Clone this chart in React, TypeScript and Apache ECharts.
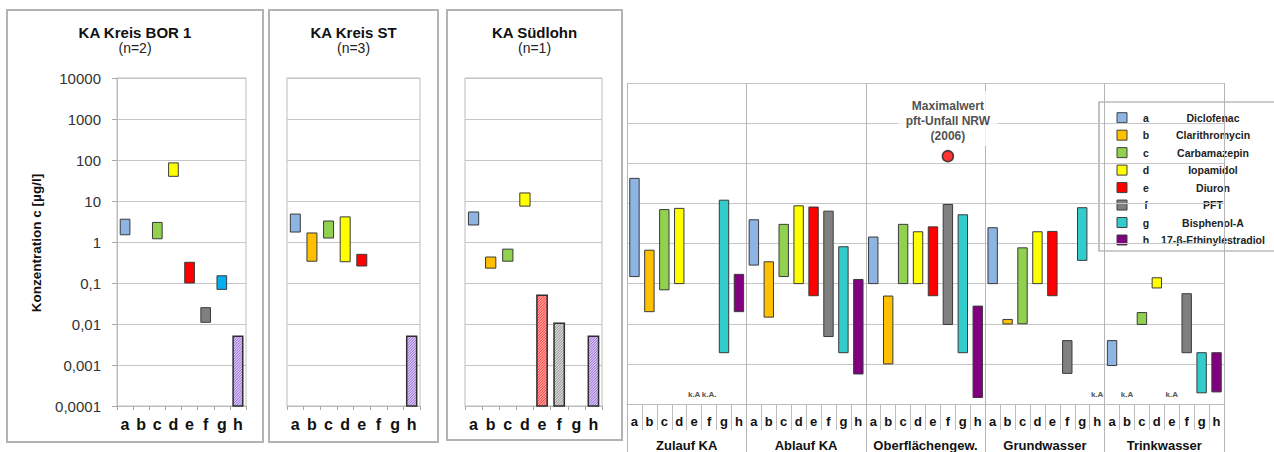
import React, { useEffect, useRef } from 'react';
import * as echarts from 'echarts';

// ---------- data ----------
const substanceLetters = ['a', 'b', 'c', 'd', 'e', 'f', 'g', 'h'];
const substanceNames = ['Diclofenac', 'Clarithromycin', 'Carbamazepin', 'Iopamidol', 'Diuron', 'PFT', 'Bisphenol-A', '17-β-Ethinylestradiol'];
const substanceColors = ['#8DB4E2', '#FFC000', '#92D050', '#FFFF00', '#FF0000', '#808080', '#33CCCC', '#800080'];
const hatchFill = ['', '', '', '', '#FFA3A3', '#D9D9D9', '', '#D7C6F2'];
const hatchStripe = ['', '', '', '', '#FF2B2B', '#8A8A8A', '', '#9563D8'];
const bor1BisphenolColor = '#00B0F0';

const yTickLabels = [10000, 1000, 100, 10, 1, 0.1, 0.01, 0.001, 0.0001];

const panelTitles = ['KA Kreis BOR 1', 'KA Kreis ST', 'KA Südlohn'];
const panelSubtitles = ['(n=2)', '(n=3)', '(n=1)'];

// KA Kreis BOR 1
const bor1Min = [1.5, null, 1.2, 40, 0.1, 0.011, 0.07, 0.0001];
const bor1Max = [3.6, null, 3.0, 85, 0.32, 0.025, 0.15, 0.005];
const bor1Hatch = [0, 0, 0, 0, 0, 0, 0, 1];
// KA Kreis ST
const stMin = [1.75, 0.34, 1.25, 0.33, 0.26, null, null, 0.0001];
const stMax = [4.8, 1.66, 3.25, 4.1, 0.5, null, null, 0.005];
const stHatch = [0, 0, 0, 0, 0, 0, 0, 1];
// KA Südlohn
const suedMin = [2.6, 0.23, 0.34, 7.5, 0.0001, 0.0001, null, 0.0001];
const suedMax = [5.4, 0.43, 0.67, 15.7, 0.05, 0.0105, null, 0.005];
const suedHatch = [0, 0, 0, 0, 1, 1, 0, 1];

// right chart
const groupNames = ['Zulauf KA', 'Ablauf KA', 'Oberflächengew.', 'Grundwasser', 'Trinkwasser'];
const zulaufMin = [0.15, 0.02, 0.07, 0.1, null, null, 0.0019, 0.02];
const zulaufMax = [42, 0.68, 7, 7.5, null, null, 12, 0.17];
const ablaufMin = [0.29, 0.0146, 0.15, 0.1, 0.05, 0.0048, 0.0019, 0.00056];
const ablaufMax = [3.9, 0.35, 3.0, 8.7, 8.1, 6.4, 0.83, 0.127];
const oberMin = [0.1, 0.001, 0.1, 0.1, 0.05, 0.0096, 0.0019, 0.000145];
const oberMax = [1.45, 0.049, 3.0, 1.96, 2.6, 9.4, 5.2, 0.0275];
const grundMin = [0.1, 0.0099, 0.01, 0.1, 0.05, 0.00058, 0.38, null];
const grundMax = [2.47, 0.0128, 0.78, 1.96, 2.0, 0.0038, 7.8, null];
const trinkMin = [0.00091, null, 0.0096, 0.078, null, 0.0019, 0.00019, 0.0002];
const trinkMax = [0.0038, null, 0.019, 0.14, null, 0.056, 0.0019, 0.0019];

const zulaufNotes = ['', '', '', '', 'k.A', 'k.A.', '', ''];
const ablaufNotes = ['', '', '', '', '', '', '', ''];
const oberNotes = ['', '', '', '', '', '', '', ''];
const grundNotes = ['', '', '', '', '', '', '', 'k.A'];
const trinkNotes = ['', 'k.A', '', '', 'k.A', '', '', ''];

const pftMaxLabel = 'Maximalwert\npft-Unfall NRW\n(2006)';
const pftMaxValue = 150;
const pftMaxGroup = 'Oberflächengew.';
const pftMaxSubstance = 'f';

// ---------- helpers ----------
const FONT = '"Liberation Sans", Arial, sans-serif';

function buildBars(mins: (number | null)[], maxs: (number | null)[], hatch: number[], offset = 0) {
  const out: number[][] = [];
  mins.forEach((lo, i) => {
    const hi = maxs[i];
    if (lo == null || hi == null) return;
    out.push([offset + i, lo, hi, hatch[i] || 0]);
  });
  return out;
}

function makeRenderBar(colors: string[], widthRatio: number) {
  return (params: any, api: any) => {
    const idx = api.value(0);
    const lo = api.value(1);
    const hi = api.value(2);
    const hatch = api.value(3);
    const sub = idx % 8;
    const pHi = api.coord([idx, hi]);
    const pLo = api.coord([idx, lo]);
    const bw = api.size([1, 1], [idx, 1])[0] * widthRatio;
    const x = pHi[0] - bw / 2;
    const y = pHi[1];
    const h = pLo[1] - pHi[1];
    if (!hatch) {
      return {
        type: 'rect',
        shape: { x, y, width: bw, height: h },
        style: { fill: colors[sub], stroke: '#3a3a3a', lineWidth: 1 },
      };
    }
    const children: any[] = [
      { type: 'rect', shape: { x, y, width: bw, height: h }, style: { fill: hatchFill[sub], stroke: null } },
    ];
    const step = 2.6;
    for (let c = x + y; c <= x + bw + y + h; c += step) {
      const xs = Math.max(x, c - (y + h));
      const xe = Math.min(x + bw, c - y);
      if (xe > xs) {
        children.push({
          type: 'line',
          shape: { x1: xs, y1: c - xs, x2: xe, y2: c - xe },
          style: { stroke: hatchStripe[sub], lineWidth: 0.9 },
        });
      }
    }
    children.push({
      type: 'rect',
      shape: { x, y, width: bw, height: h },
      style: { fill: 'none', stroke: '#2e2e2e', lineWidth: 1.5 },
    });
    return { type: 'group', children };
  };
}

function logLabel(v: number) {
  const n = Number(Number(v).toPrecision(1));
  return String(n).replace('.', ',');
}

const App: React.FC = () => {
  const ref = useRef<HTMLDivElement>(null);

  useEffect(() => {
    if (!ref.current) return;
    document.body.style.margin = '0';
    const chart = echarts.init(ref.current, undefined, { renderer: 'svg' });

    const yMin = yTickLabels[yTickLabels.length - 1];
    const yMax = yTickLabels[0];

    const panelGrids = [
      { left: 117, top: 78, width: 129, height: 328 },
      { left: 287, top: 78, width: 133, height: 328 },
      { left: 465, top: 78, width: 137, height: 328 },
    ];
    const panelFrames = [
      { x: 7, y: 10, w: 256, h: 432 },
      { x: 269, y: 10, w: 169, h: 432 },
      { x: 447, y: 10, w: 175, h: 430 },
    ];

    const grids: any[] = panelGrids.map((g) => ({
      ...g,
      show: true,
      borderColor: '#bdbdbd',
      borderWidth: 1,
      backgroundColor: 'transparent',
      outerBoundsMode: 'none',
      containLabel: false,
    }));
    grids.push({ left: 627, top: 83, width: 597, height: 321, outerBoundsMode: 'none', containLabel: false });

    const xAxes: any[] = panelGrids.map((_, i) => ({
      type: 'category',
      gridIndex: i,
      data: substanceLetters,
      boundaryGap: true,
      axisLine: { show: true, lineStyle: { color: '#bdbdbd', width: 1 } },
      axisTick: { show: true, length: 4, interval: 0, lineStyle: { color: '#a8a8a8' } },
      axisLabel: { interval: 0, margin: 10, fontFamily: FONT, fontSize: 16, fontWeight: 'bold', color: '#111' },
      splitLine: { show: false },
    }));
    const mainCats: string[] = [];
    groupNames.forEach(() => substanceLetters.forEach((l) => mainCats.push(l)));
    xAxes.push({
      type: 'category',
      gridIndex: 3,
      data: mainCats,
      boundaryGap: true,
      axisLine: { show: true, lineStyle: { color: '#bdbdbd', width: 1 } },
      axisTick: { show: true, length: 26, interval: 0, lineStyle: { color: '#bdbdbd' } },
      axisLabel: { interval: 0, margin: 11, fontFamily: FONT, fontSize: 13, fontWeight: 'bold', color: '#111' },
      splitLine: { show: false },
    });
    xAxes.push({
      type: 'category',
      gridIndex: 3,
      position: 'bottom',
      data: groupNames,
      boundaryGap: true,
      axisLine: { show: false },
      axisTick: { show: true, length: 48, interval: 0, lineStyle: { color: '#b5b5b5' } },
      axisLabel: { interval: 0, margin: 35, fontFamily: FONT, fontSize: 13, fontWeight: 'bold', color: '#111' },
      splitLine: { show: true, interval: 0, lineStyle: { color: '#b5b5b5', width: 1 } },
    });

    const yAxes: any[] = [0, 1, 2, 3].map((i) => ({
      type: 'log',
      logBase: 10,
      gridIndex: i,
      min: yMin,
      max: yMax,
      splitNumber: 8,
      axisLine: { show: i === 0, lineStyle: { color: '#bdbdbd' } },
      axisTick: { show: i === 0, length: 5, lineStyle: { color: '#a8a8a8' } },
      axisLabel: {
        show: i === 0,
        margin: 16,
        fontFamily: FONT,
        fontSize: 15,
        color: '#333',
        formatter: (v: number) => logLabel(v),
      },
      splitLine: { show: true, lineStyle: { color: '#c6c6c6', width: 1.2 } },
    }));

    const bor1Colors = substanceColors.map((c, i) => (i === 6 ? bor1BisphenolColor : c));

    const mainMins = [...zulaufMin, ...ablaufMin, ...oberMin, ...grundMin, ...trinkMin];
    const mainMaxs = [...zulaufMax, ...ablaufMax, ...oberMax, ...grundMax, ...trinkMax];
    const mainNotes = [...zulaufNotes, ...ablaufNotes, ...oberNotes, ...grundNotes, ...trinkNotes];
    const noteItems = mainNotes
      .map((t, i) => ({ t, i }))
      .filter((n) => n.t);

    const pftIdx = groupNames.indexOf(pftMaxGroup) * 8 + substanceLetters.indexOf(pftMaxSubstance);

    const series: any[] = [
      {
        type: 'custom',
        xAxisIndex: 0,
        yAxisIndex: 0,
        data: buildBars(bor1Min, bor1Max, bor1Hatch),
        renderItem: makeRenderBar(bor1Colors, 0.6),
        z: 5,
      },
      {
        type: 'custom',
        xAxisIndex: 1,
        yAxisIndex: 1,
        data: buildBars(stMin, stMax, stHatch),
        renderItem: makeRenderBar(substanceColors, 0.6),
        z: 5,
      },
      {
        type: 'custom',
        xAxisIndex: 2,
        yAxisIndex: 2,
        data: buildBars(suedMin, suedMax, suedHatch),
        renderItem: makeRenderBar(substanceColors, 0.6),
        z: 5,
      },
      {
        type: 'custom',
        xAxisIndex: 3,
        yAxisIndex: 3,
        data: buildBars(mainMins, mainMaxs, new Array(40).fill(0)),
        renderItem: makeRenderBar(substanceColors, 0.63),
        z: 5,
      },
      {
        type: 'custom',
        xAxisIndex: 3,
        yAxisIndex: 3,
        data: noteItems.map((n) => [n.i, yMin]),
        renderItem: (params: any, api: any) => {
          const p = api.coord([api.value(0), api.value(1)]);
          return {
            type: 'text',
            x: p[0],
            y: p[1] - 10,
            style: {
              text: noteItems[params.dataIndex].t,
              font: `bold 8px ${FONT}`,
              fill: '#555',
              align: 'center',
              verticalAlign: 'middle',
              textAlign: 'center',
              textVerticalAlign: 'middle',
            },
          };
        },
        z: 6,
      },
      {
        type: 'scatter',
        xAxisIndex: 3,
        yAxisIndex: 3,
        data: [[pftIdx, pftMaxValue]],
        symbol: 'circle',
        symbolSize: 11,
        itemStyle: { color: '#FF0000', borderColor: '#222', borderWidth: 1.5 },
        label: {
          show: true,
          position: 'top',
          distance: 4,
          formatter: pftMaxLabel,
          fontFamily: FONT,
          fontSize: 12,
          fontWeight: 'bold',
          color: '#222',
          lineHeight: 15,
          align: 'center',
          backgroundColor: '#ffffff',
          padding: [8, 8, 2, 8],
        },
        z: 10,
      },
    ];

    const graphics: any[] = [];
    panelFrames.forEach((f, i) => {
      graphics.push({
        type: 'rect',
        shape: { x: f.x, y: f.y, width: f.w, height: f.h },
        style: { fill: 'none', stroke: '#b3b3b3', lineWidth: 2 },
        z: 1,
      });
      const cx = f.x + f.w / 2;
      graphics.push({
        type: 'text',
        x: cx,
        y: 32,
        style: {
          text: panelTitles[i],
          font: `bold 15px ${FONT}`,
          fill: '#111',
          align: 'center',
          verticalAlign: 'middle',
          textAlign: 'center',
          textVerticalAlign: 'middle',
        },
      });
      graphics.push({
        type: 'text',
        x: cx,
        y: 48,
        style: {
          text: panelSubtitles[i],
          font: `14px ${FONT}`,
          fill: '#222',
          align: 'center',
          verticalAlign: 'middle',
          textAlign: 'center',
          textVerticalAlign: 'middle',
        },
      });
    });
    graphics.push({
      type: 'text',
      x: 36,
      y: 243,
      rotation: Math.PI / 2,
      style: {
        text: 'Konzentration c [µg/l]',
        font: `bold 13.5px ${FONT}`,
        fill: '#111',
        align: 'center',
        verticalAlign: 'middle',
        textAlign: 'center',
        textVerticalAlign: 'middle',
      },
    });

    // legend
    const legendChildren: any[] = [
      {
        type: 'rect',
        shape: { x: 1099, y: 102, width: 190, height: 149 },
        style: { fill: '#ffffff', stroke: '#9a9a9a', lineWidth: 1.2 },
      },
    ];
    substanceNames.forEach((name, i) => {
      const cy = 117.7 + i * 17.47;
      legendChildren.push({
        type: 'rect',
        shape: { x: 1117, y: cy - 5, width: 10, height: 10 },
        style: { fill: substanceColors[i], stroke: '#404040', lineWidth: 1 },
      });
      legendChildren.push({
        type: 'text',
        x: 1146,
        y: cy,
        style: {
          text: substanceLetters[i],
          font: `bold 10.5px ${FONT}`,
          fill: '#222',
          align: 'center',
          verticalAlign: 'middle',
          textAlign: 'center',
          textVerticalAlign: 'middle',
        },
      });
      legendChildren.push({
        type: 'text',
        x: 1213,
        y: cy,
        style: {
          text: name,
          font: `bold 10.5px ${FONT}`,
          fill: '#222',
          align: 'center',
          verticalAlign: 'middle',
          textAlign: 'center',
          textVerticalAlign: 'middle',
        },
      });
    });
    graphics.push({ type: 'group', z: 100, children: legendChildren });

    chart.setOption({
      animation: false,
      backgroundColor: '#ffffff',
      grid: grids,
      xAxis: xAxes,
      yAxis: yAxes,
      series,
      graphic: { elements: graphics },
    });

    return () => {
      chart.dispose();
    };
  }, []);

  return (
    <div
      ref={ref}
      style={{ position: 'absolute', left: 0, top: 0, width: 1274, height: 452 }}
    />
  );
};

export default App;
